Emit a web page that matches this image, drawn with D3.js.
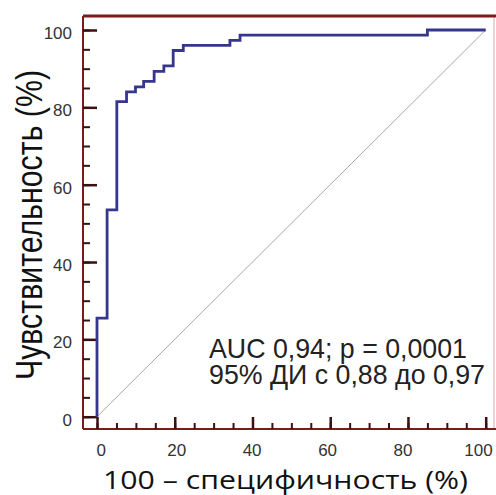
<!DOCTYPE html>
<html>
<head>
<meta charset="utf-8">
<script src="https://cdn.jsdelivr.net/npm/d3@7"></script>
<style>
  html, body { margin: 0; padding: 0; background: #fff; }
  svg { display: block; }
</style>
</head>
<body>
<svg id="chart"></svg>
<script>
// ROC curve points (100 - specificity, sensitivity), in %
const fpr = [0, 0, 2.6, 5.1, 7.6, 9.9, 12, 14.7, 17.2, 19.6, 22.2, 34.2, 36.8, 85, 100];
const tpr = [0, 25.5, 53.5, 81.5, 84, 85.3, 86.7, 89.3, 90.7, 94.7, 96, 97.3, 98.7, 100, 100];
const majorTicks = [0, 20, 40, 60, 80, 100];
const minorTicks = d3.range(0, 101, 5);
const statLines = ["AUC 0,94; p = 0,0001", "95% ДИ с 0,88 до 0,97"];
const xTitle = "100 – специфичность (%)";
const yTitle = "Чувствительность (%)";

const W = 496, H = 495;
const frame = {left: 83, top: 16, right: 494, bottom: 429};
const frameColor = "#7b1c1c";
const tickColor = "#3a1010";
const sans = "'Liberation Sans', Arial, sans-serif";

const svg = d3.select("#chart").attr("width", W).attr("height", H);

const x = d3.scaleLinear().domain([0, 100]).range([97, 485.7]);
const y = d3.scaleLinear().domain([0, 100]).range([416.7, 30]);
// tick labels in the original sit a little off the ticks
const xLab = d3.scaleLinear().domain([0, 100]).range([100.7, 478]);

// frame
svg.append("line")
    .attr("x1", frame.right).attr("x2", frame.right)
    .attr("y1", frame.top).attr("y2", frame.bottom)
    .attr("stroke", "#ecd4d4").attr("stroke-width", 2);
svg.append("line")
    .attr("x1", frame.left).attr("x2", W)
    .attr("y1", frame.top).attr("y2", frame.top)
    .attr("stroke", frameColor).attr("stroke-width", 3);
svg.append("line")
    .attr("x1", frame.left).attr("x2", frame.left)
    .attr("y1", frame.top).attr("y2", frame.bottom)
    .attr("stroke", frameColor).attr("stroke-width", 2);
svg.append("line")
    .attr("x1", frame.left).attr("x2", W)
    .attr("y1", frame.bottom).attr("y2", frame.bottom)
    .attr("stroke", frameColor).attr("stroke-width", 2);

// minor ticks
svg.append("g")
    .attr("transform", `translate(${frame.left},0)`)
    .call(d3.axisLeft(y).tickValues(minorTicks).tickSize(-7).tickFormat(""))
    .call(g => g.select(".domain").remove())
    .call(g => g.selectAll("line").attr("stroke", tickColor).attr("stroke-width", 2));
svg.append("g")
    .attr("transform", `translate(0,${frame.bottom})`)
    .call(d3.axisBottom(x).tickValues(minorTicks).tickSize(-6).tickFormat(""))
    .call(g => g.select(".domain").remove())
    .call(g => g.selectAll("line").attr("stroke", tickColor).attr("stroke-width", 2));

// major ticks + labels
svg.append("g")
    .attr("transform", `translate(${frame.left},0)`)
    .call(d3.axisLeft(y).tickValues(majorTicks).tickSize(-14).tickPadding(11))
    .call(g => g.select(".domain").remove())
    .call(g => g.selectAll("line").attr("stroke", tickColor).attr("stroke-width", 2.5))
    .call(g => g.selectAll("text")
        .attr("dy", "0.5em")
        .attr("fill", "#333")
        .style("font-family", sans)
        .style("font-size", "17px"));
svg.append("g")
    .attr("transform", `translate(0,${frame.bottom})`)
    .call(d3.axisBottom(x).tickValues(majorTicks).tickSize(-12).tickPadding(15))
    .call(g => g.select(".domain").remove())
    .call(g => g.selectAll("line").attr("stroke", tickColor).attr("stroke-width", 2.5))
    .call(g => g.selectAll("text")
        .attr("x", d => xLab(d) - x(d))
        .attr("fill", "#333")
        .style("font-family", sans)
        .style("font-size", "17px"));

// diagonal reference
svg.append("line")
    .attr("x1", x(0)).attr("y1", y(0))
    .attr("x2", x(100)).attr("y2", y(100))
    .attr("stroke", "#a8a8a8").attr("stroke-width", 1);

// ROC curve
const pts = fpr.map((d, i) => [d, tpr[i]]);
svg.append("path")
    .datum(pts)
    .attr("fill", "none")
    .attr("stroke", "#36368f")
    .attr("stroke-width", 2.8)
    .attr("d", d3.line().x(d => x(d[0])).y(d => y(d[1])).curve(d3.curveStepAfter));

// stats annotation (the original font is a narrow one)
const statWidths = [258, 276];
svg.append("g")
    .selectAll("text")
    .data(statLines)
    .join("text")
    .attr("x", 209)
    .attr("y", (d, i) => 358 + i * 26)
    .attr("textLength", (d, i) => statWidths[i])
    .attr("lengthAdjust", "spacingAndGlyphs")
    .attr("fill", "#222")
    .style("font-family", sans)
    .style("font-size", "28px")
    .text(d => d);

// axis titles
svg.append("text")
    .attr("x", 285.5)
    .attr("y", 489)
    .attr("text-anchor", "middle")
    .attr("textLength", 365)
    .attr("lengthAdjust", "spacingAndGlyphs")
    .attr("fill", "#111")
    .style("font-family", "'Open Sans', sans-serif")
    .style("font-size", "25px")
    .text(xTitle);

svg.append("text")
    .attr("transform", "translate(41.5,225) rotate(-90)")
    .attr("text-anchor", "middle")
    .attr("textLength", 310)
    .attr("lengthAdjust", "spacingAndGlyphs")
    .attr("fill", "#111")
    .style("font-family", sans)
    .style("font-size", "36px")
    .text(yTitle);
</script>
</body>
</html>
